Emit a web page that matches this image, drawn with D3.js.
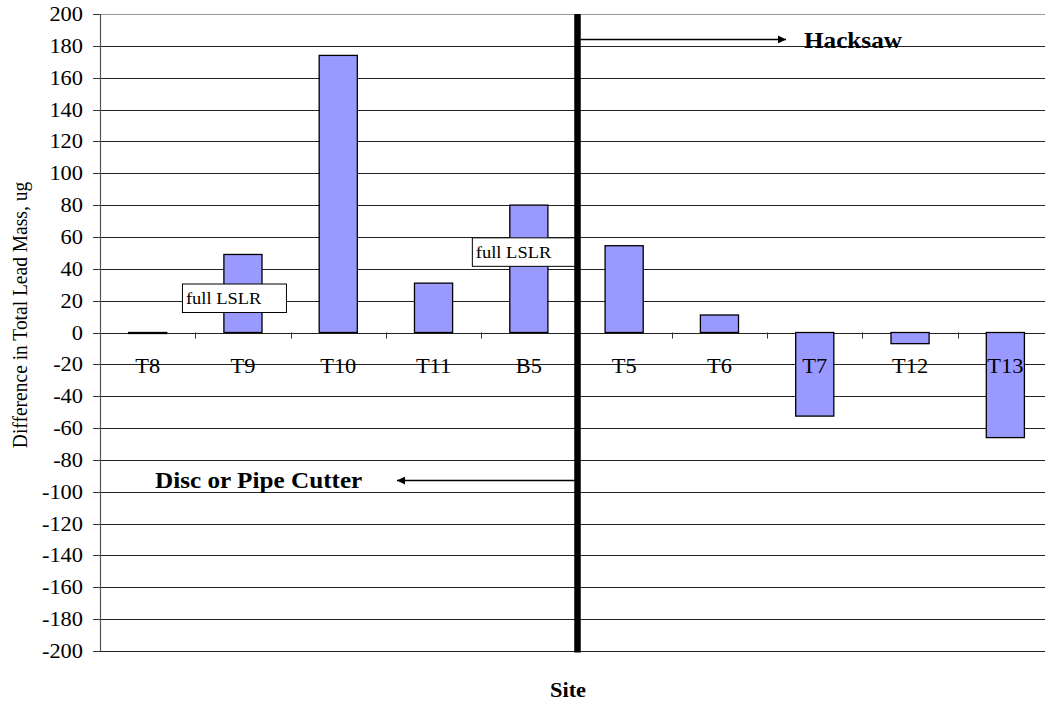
<!DOCTYPE html>
<html><head><meta charset="utf-8">
<script src="https://cdn.jsdelivr.net/npm/d3@7"></script>
<style>
body{margin:0;background:#fff;}
svg{display:block;font-family:"Liberation Serif","Times New Roman",serif;}
</style></head>
<body>
<svg id="c" width="1045" height="704"></svg>
<script>
const categories = ["T8","T9","T10","T11","B5","T5","T6","T7","T12","T13"];
const values = [-0.5, 49, 174, 31, 80, 54.5, 11, -52.5, -7, -66];
const yTicks = [200,180,160,140,120,100,80,60,40,20,0,-20,-40,-60,-80,-100,-120,-140,-160,-180,-200];
const labelCats = ["T9","B5"];
const labelVals = [21.5, 50.5];
const labelText = "full LSLR";
const dividerCat = "T5";
const rightNote = "Hacksaw";
const leftNote = "Disc or Pipe Cutter";
const rightNoteVal = 184;
const leftNoteVal = -93;

const SX = 1.12;
const svg = d3.select("#c");
const x = d3.scaleBand().domain(categories).range([100, 100 + 10*95.3]).paddingInner(0).paddingOuter(0);
const y = d3.scaleLinear().domain([-200,200]).range([651, 14]);
const bw = x.bandwidth()*0.4;

function stxt(g, tx, ty, str, opts){
  const t = g.append("g").attr("transform", `translate(${tx},${ty}) scale(${SX},1)` + (opts.rot?` rotate(${opts.rot})`:""))
    .append("text").text(str)
    .attr("font-size", opts.size).attr("text-anchor", opts.anchor||"start")
    .attr("font-weight", opts.bold?"bold":"normal").attr("fill","#000");
  if(opts.dy) t.attr("dy", opts.dy);
  return t;
}

// gridlines
svg.append("g").selectAll("line").data(yTicks).join("line")
  .attr("x1", 100).attr("x2", 1045)
  .attr("y1", d=>Math.round(y(d))+0.5).attr("y2", d=>Math.round(y(d))+0.5)
  .attr("stroke", d=> d===200 ? "#9a9a9a" : "#222").attr("stroke-width",1.1);

// y axis line and ticks
svg.append("line").attr("x1",100.5).attr("x2",100.5).attr("y1",y(200)).attr("y2",y(-200)+0.5)
  .attr("stroke","#555").attr("stroke-width",1.2);
svg.append("g").selectAll("line").data(yTicks).join("line")
  .attr("x1",93).attr("x2",100).attr("y1",d=>Math.round(y(d))+0.5).attr("y2",d=>Math.round(y(d))+0.5)
  .attr("stroke","#333");
const yl = svg.append("g");
yTicks.forEach(d=> stxt(yl, 83, y(d), d, {size:20, anchor:"end", dy:"0.35em"}));

// bars
svg.append("g").selectAll("rect").data(categories).join("rect")
  .attr("x", (d,i)=> x(d)+x.bandwidth()/2 - bw/2)
  .attr("width", bw)
  .attr("y", (d,i)=> y(Math.max(0, values[i])))
  .attr("height", (d,i)=> Math.max(1, Math.abs(y(values[i]) - y(0))))
  .attr("fill","#9999ff").attr("stroke","#000").attr("stroke-width",1.3);

// category ticks (at band boundaries)
const bounds = categories.slice(1).map(c=>x(c));
svg.append("g").selectAll("line").data(bounds).join("line")
  .attr("x1",d=>Math.round(d)+0.5).attr("x2",d=>Math.round(d)+0.5)
  .attr("y1", y(0)).attr("y2", y(0)+6).attr("stroke","#333");

// category labels
const xl = svg.append("g");
categories.forEach(c=> stxt(xl, x(c)+x.bandwidth()/2, 373, c, {size:20, anchor:"middle"}));

// label boxes
const boxShift = [-8.5, -4.5];
labelCats.forEach((c,i)=>{
  const cx = x(c)+x.bandwidth()/2 + boxShift[i];
  const cy = y(labelVals[i]);
  const w = 104, h = 28.5;
  svg.append("rect").attr("x", cx-w/2).attr("y", cy-h/2).attr("width", w).attr("height", h)
    .attr("fill","#fff").attr("stroke","#000").attr("stroke-width",1);
  stxt(svg, cx-w/2+3.5, cy+5.5, labelText, {size:16.5});
});

// divider line
const dx = x(dividerCat)+1;
svg.append("line").attr("x1",dx).attr("x2",dx).attr("y1",y(200)).attr("y2",y(-200)+1.5)
  .attr("stroke","#000").attr("stroke-width",6.5);

// arrow markers
const defs = svg.append("defs");
defs.append("marker").attr("id","ah").attr("viewBox","0 0 10 10").attr("refX",10).attr("refY",5)
  .attr("markerUnits","userSpaceOnUse").attr("markerWidth",10).attr("markerHeight",8).attr("orient","auto")
  .append("path").attr("d","M0,0 L10,5 L0,10 z").attr("fill","#000");

const ya = y(rightNoteVal);
svg.append("line").attr("x1", dx+3).attr("x2", 786).attr("y1", ya).attr("y2", ya)
  .attr("stroke","#000").attr("stroke-width",1.5).attr("marker-end","url(#ah)");
stxt(svg, 804, 47.5, rightNote, {size:22.5, bold:true});

const yb = y(leftNoteVal);
svg.append("line").attr("x1", dx-3).attr("x2", 397).attr("y1", yb).attr("y2", yb)
  .attr("stroke","#000").attr("stroke-width",1.5).attr("marker-end","url(#ah)");
stxt(svg, 155, 487.5, leftNote, {size:22.5, bold:true});

// axis titles
stxt(svg, 568, 697, "Site", {size:20, bold:true, anchor:"middle"});
stxt(svg, 27, 315, "Difference in Total Lead Mass, ug", {size:19.5, anchor:"middle", rot:-90});
</script>
</body></html>
